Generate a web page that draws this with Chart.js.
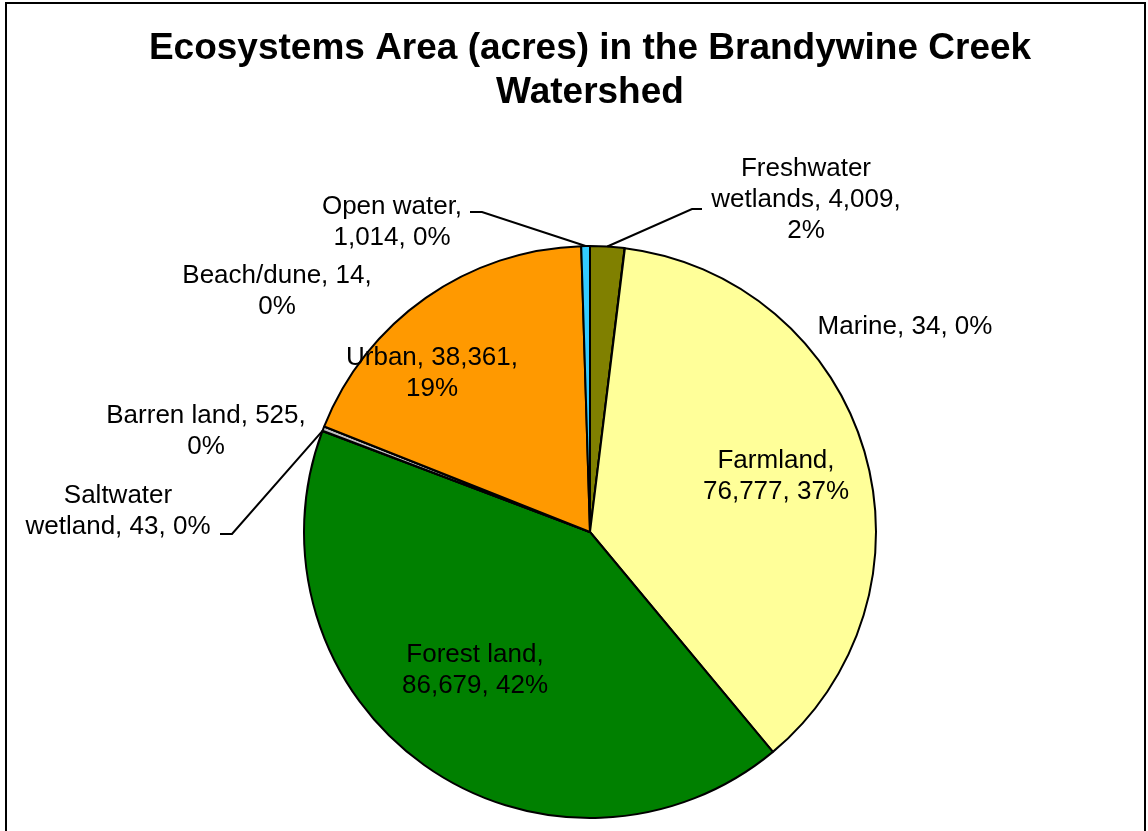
<!DOCTYPE html>
<html lang="en">
<head>
<meta charset="UTF-8">
<title>Ecosystems Area - Brandywine Creek Watershed</title>
<style>
  html,body{margin:0;padding:0;background:#fff;}
  #chart-container{position:relative;width:1148px;height:831px;}
</style>
</head>
<body>
<div id="chart-container">
  <canvas id="pie-chart" width="1148" height="831"></canvas>
</div>
<script src="https://cdn.jsdelivr.net/npm/chart.js"></script>
<script>
// data, clockwise from 12 o'clock
const categories = ['Freshwater wetlands', 'Marine', 'Farmland', 'Forest land', 'Saltwater wetland', 'Barren land', 'Beach/dune', 'Urban', 'Open water']
const acres = [4009, 34, 76777, 86679, 43, 525, 14, 38361, 1014]
// label text lines as shown on the chart
const labelLines = [
  ['Freshwater', 'wetlands, 4,009,', '2%'],
  ['Marine, 34, 0%'],
  ['Farmland,', '76,777, 37%'],
  ['Forest land,', '86,679, 42%'],
  ['Saltwater', 'wetland, 43, 0%'],
  ['Barren land, 525,', '0%'],
  ['Beach/dune, 14,', '0%'],
  ['Urban, 38,361,', '19%'],
  ['Open water,', '1,014, 0%']
]
const titleLines = ['Ecosystems Area (acres) in the Brandywine Creek', 'Watershed']

// styling
const sliceColors = ['#808000', '#3366CC', '#FFFF99', '#008000', '#99CCFF', '#C0C0C0', '#FFCC99', '#FF9900', '#33CCFF']
// label block centre relative to pie centre (px), plus optional leader elbow
const labelPlace = [
  {dx: 216, dy: -332, leader: [112, -323, 102, -323]},
  {dx: 315, dy: -205},
  {dx: 186, dy: -56},
  {dx: -115, dy: 138},
  {dx: -472, dy: -21, leader: [-370, 2, -358, 2]},
  {dx: -384, dy: -101},
  {dx: -313, dy: -241},
  {dx: -158, dy: -159},
  {dx: -198, dy: -310, leader: [-120, -320, -108, -320]}
]
const FONT = '"Liberation Sans", Arial, sans-serif'
const labelSize = 26
const labelLH = 31

const framePlugin = {
  id: 'frame',
  beforeDraw(chart) {
    const c = chart.ctx
    c.save()
    c.fillStyle = '#fff'
    c.fillRect(0, 0, chart.width, chart.height)
    c.strokeStyle = '#000'
    c.lineWidth = 2
    c.strokeRect(6, 3, 1139, 900)
    c.restore()
  }
}

const labelPlugin = {
  id: 'sliceLabels',
  afterDatasetsDraw(chart) {
    const c = chart.ctx
    const meta = chart.getDatasetMeta(0)
    c.save()
    c.font = labelSize + 'px ' + FONT
    c.fillStyle = '#000'
    c.textAlign = 'center'
    c.textBaseline = 'middle'
    meta.data.forEach((arc, i) => {
      const p = arc.getProps(['x', 'y', 'startAngle', 'endAngle', 'outerRadius'], true)
      const pl = labelPlace[i]
      const lines = labelLines[i]
      const cx = p.x + pl.dx
      const cy = p.y + pl.dy
      const y0 = cy - (lines.length - 1) * labelLH / 2
      lines.forEach((t, k) => c.fillText(t, cx, y0 + k * labelLH))
      if (pl.leader) {
        const mid = (p.startAngle + p.endAngle) / 2
        const ax = p.x + Math.cos(mid) * p.outerRadius
        const ay = p.y + Math.sin(mid) * p.outerRadius
        c.beginPath()
        c.strokeStyle = '#000'
        c.lineWidth = 2
        c.moveTo(p.x + pl.leader[0], p.y + pl.leader[1])
        c.lineTo(p.x + pl.leader[2], p.y + pl.leader[3])
        c.lineTo(ax, ay)
        c.stroke()
      }
    })
    c.restore()
  }
}

new Chart(document.getElementById('pie-chart'), {
  type: 'pie',
  data: {
    labels: categories,
    datasets: [{
      data: acres,
      backgroundColor: sliceColors,
      borderColor: '#000',
      borderWidth: 2,
      radius: 286
    }]
  },
  options: {
    responsive: false,
    animation: false,
    layout: {padding: {left: 32, right: 0, top: 0, bottom: 0}},
    plugins: {
      legend: {display: false},
      tooltip: {enabled: false},
      title: {
        display: true,
        text: titleLines,
        color: '#000',
        font: {family: FONT, size: 37, weight: 'bold', lineHeight: '44px'},
        padding: {top: 27, bottom: 118}
      }
    }
  },
  plugins: [framePlugin, labelPlugin]
})
</script>
</body>
</html>
